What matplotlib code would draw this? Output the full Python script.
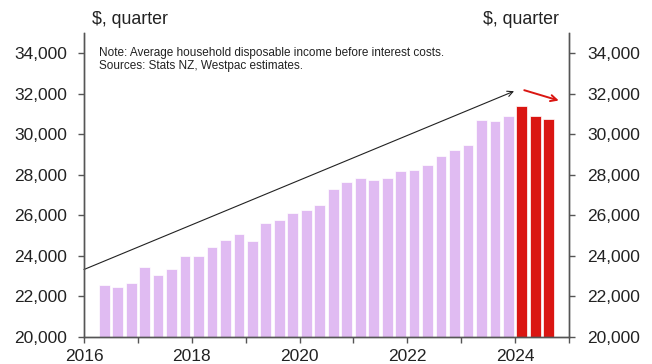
import numpy as np
import matplotlib.pyplot as plt
from matplotlib.ticker import FuncFormatter, MultipleLocator

plt.rcParams['font.family'] = ['Liberation Sans', 'DejaVu Sans']

# quarterly average household disposable income, Q2 2016 - Q3 2024
actual = [22590, 22490, 22660, 23430, 23050, 23360, 24020, 24000, 24460, 24770,
          25100, 24750, 25650, 25790, 26130, 26280, 26490, 27280, 27640, 27850,
          27740, 27850, 28200, 28250, 28510, 28920, 29210, 29470, 30690, 30650,
          30900]
estimate = [31390, 30930, 30740]

start = 2016.375  # mid-point of the first quarter
x_act = start + 0.25 * np.arange(len(actual))
x_est = start + 0.25 * (len(actual) + np.arange(len(estimate)))

purple = '#e0bbf2'
red = '#da1612'
grey = '#555555'
txt = '#222222'

fig = plt.figure(figsize=(6.52, 3.64), dpi=100)
ax = fig.add_axes([0.1288, 0.0742, 0.7439, 0.835])

ax.bar(x_act, actual, width=0.2, color=purple, edgecolor='white', linewidth=0.5)
ax.bar(x_est, estimate, width=0.2, color=red, edgecolor='white', linewidth=0.5)

ax.set_xlim(2016, 2025)
ax.set_ylim(20000, 35000)
ax.xaxis.set_major_locator(MultipleLocator(2))
ax.xaxis.set_minor_locator(MultipleLocator(1))
ax.yaxis.set_major_locator(MultipleLocator(2000))
fmt = FuncFormatter(lambda v, p: f'{v:,.0f}' if v < 35000 else '')
ax.yaxis.set_major_formatter(fmt)

ax2 = ax.twinx()
ax2.set_ylim(ax.get_ylim())
ax2.yaxis.set_major_locator(MultipleLocator(2000))
ax2.yaxis.set_major_formatter(fmt)

for a in (ax, ax2):
    a.spines['top'].set_visible(False)
    for s in ('left', 'right', 'bottom'):
        a.spines[s].set_color(grey)
        a.spines[s].set_linewidth(1.0)
    a.tick_params(axis='both', which='both', direction='out', length=4,
                  width=1.0, color=grey, labelsize=12.5, labelcolor=txt)
ax.tick_params(axis='x', which='minor', length=4)
ax.tick_params(axis='x', pad=5)
ax.tick_params(axis='y', pad=8)
ax2.tick_params(axis='y', pad=9)

# trend arrows
ax.annotate('', xy=(2023.98, 32130), xytext=(2016, 23330),
            arrowprops=dict(arrowstyle='->', color='#222222', lw=0.8,
                            shrinkA=0, shrinkB=0, mutation_scale=10))
ax.annotate('', xy=(2024.81, 31670), xytext=(2024.17, 32180),
            arrowprops=dict(arrowstyle='->', color=red, lw=1.4,
                            shrinkA=0, shrinkB=0, mutation_scale=11))

ax.text(0.03, 0.955, 'Note: Average household disposable income before interest costs.\n'
        'Sources: Stats NZ, Westpac estimates.', transform=ax.transAxes,
        fontsize=8.5, color=txt, va='top', ha='left', linespacing=1.15)

fig.text(92 / 652, 1 - 19 / 364, '$, quarter', fontsize=12.8, color=txt,
         ha='left', va='center')
fig.text(559 / 652, 1 - 19 / 364, '$, quarter', fontsize=12.8, color=txt,
         ha='right', va='center')

fig.savefig('out.png', dpi=100)
